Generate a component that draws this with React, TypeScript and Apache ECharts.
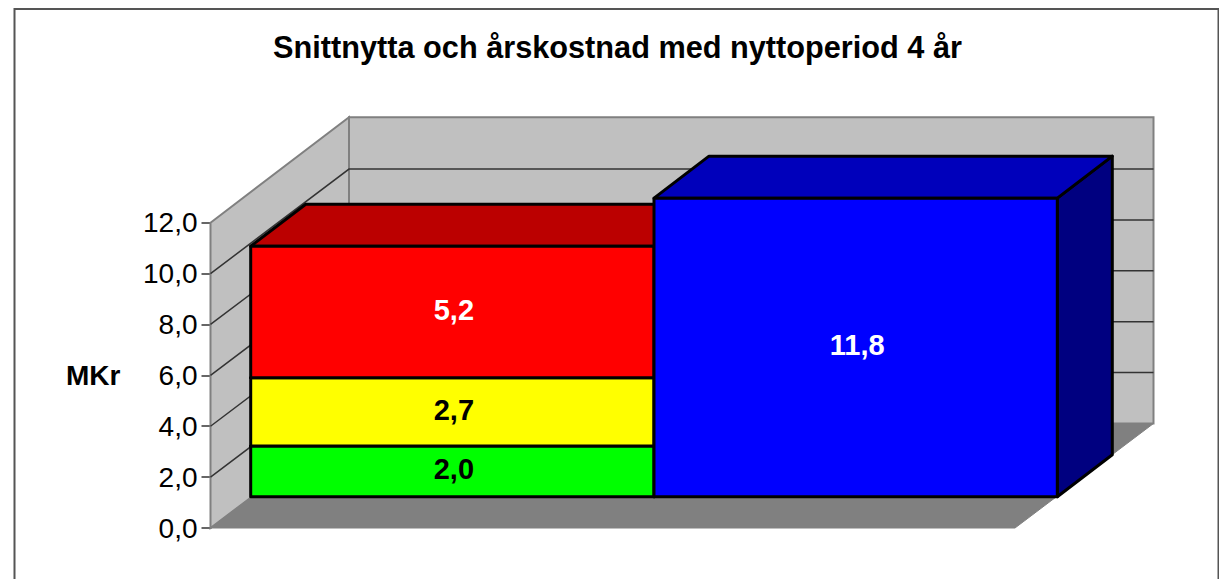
import React, { useEffect, useRef } from "react";
import * as echarts from "echarts";

const titleText = "Snittnytta och årskostnad med nyttoperiod 4 år";
const axisName = "MKr";
const categories = ["Snittnytta", "Årskostnad"];
const axisTicks = [0, 2, 4, 6, 8, 10, 12];
const greenValues = [2.0, null];
const yellowValues = [2.7, null];
const redValues = [5.2, null];
const blueValues = [null, 11.8];

const FONT = "'Liberation Sans', Arial, sans-serif";
const WALL = { dx: 138.5, dy: -104.5 };
const BAR = { dx: 55, dy: -42 };

const fmt = (v: number) => v.toFixed(1).replace(".", ",");

function wallItem(_: any, api: any) {
  const v = api.value(0);
  const p0 = api.coord([0, v]);
  if (v === 0) {
    const f0 = api.coord([0, 0]);
    const f1 = api.coord([1, 0]);
    const ft = api.coord([0, 12]);
    const b = (p: number[]) => [p[0] + WALL.dx, p[1] + WALL.dy];
    const bTop = [ft[0] + WALL.dx, ft[1] - 105.5];
    const bBase = b(f0);
    const bRight = b(f1);
    const rTop = [bRight[0], bTop[1]];
    return {
      type: "group",
      children: [
        { type: "polygon", shape: { points: [bTop, rTop, bRight, bBase] }, style: { fill: "#c0c0c0", stroke: "#808080", lineWidth: 2 } },
        { type: "polygon", shape: { points: [ft, bTop, bBase, f0] }, style: { fill: "#c0c0c0", stroke: "#808080", lineWidth: 2 } },
        { type: "polygon", shape: { points: [f0, bBase, bRight, f1] }, style: { fill: "#808080", stroke: "#808080", lineWidth: 1 } },
      ],
    };
  }
  if (v === 12) return null;
  const pb = [p0[0] + WALL.dx, p0[1] + WALL.dy];
  const r = api.coord([1, v]);
  return {
    type: "polyline",
    shape: { points: [p0, pb, [r[0] + WALL.dx, pb[1]]] },
    style: { fill: "none", stroke: "#333333", lineWidth: 1.5 },
  };
}

function barRenderer(front: string, top: string, side: string, labelColor: string) {
  return (_: any, api: any) => {
    const cat = api.value(0);
    const base = api.value(1);
    const val = api.value(2);
    const c0 = api.coord([cat, base]);
    const c1 = api.coord([cat, base + val]);
    const w = api.size([1, 0])[0];
    const x0 = c0[0] - w / 2;
    const x1 = c0[0] + w / 2;
    const edge = { stroke: "#000000", lineWidth: 3, lineJoin: "round" };
    return {
      type: "group",
      children: [
        { type: "polygon", shape: { points: [[x1, c1[1]], [x1 + BAR.dx, c1[1] + BAR.dy], [x1 + BAR.dx, c0[1] + BAR.dy], [x1, c0[1]]] }, style: { fill: side, ...edge } },
        { type: "polygon", shape: { points: [[x0, c1[1]], [x0 + BAR.dx, c1[1] + BAR.dy], [x1 + BAR.dx, c1[1] + BAR.dy], [x1, c1[1]]] }, style: { fill: top, ...edge } },
        { type: "polygon", shape: { points: [[x0, c1[1]], [x1, c1[1]], [x1, c0[1]], [x0, c0[1]]] }, style: { fill: front, ...edge } },
        {
          type: "text",
          x: (x0 + x1) / 2 + 1.5,
          y: (c0[1] + c1[1]) / 2 - 2,
          style: { text: fmt(val), fill: labelColor, font: `bold 29px ${FONT}`, align: "center", verticalAlign: "middle" },
        },
      ],
    };
  };
}

function segmentData(values: (number | null)[], bases: (number | null)[][]) {
  const rows: number[][] = [];
  values.forEach((v, i) => {
    if (v === null) return;
    const base = bases.reduce((s, arr) => s + (arr[i] ?? 0), 0);
    rows.push([i, base, v]);
  });
  return rows;
}

export default function App() {
  const ref = useRef<HTMLDivElement>(null);
  useEffect(() => {
    const chart = echarts.init(ref.current!, undefined, { renderer: "svg" });
    const barSeries = (name: string, data: number[][], renderItem: any) => ({
      name,
      type: "custom",
      xAxisIndex: 1,
      yAxisIndex: 1,
      coordinateSystem: "cartesian2d",
      silent: true,
      clip: false,
      data,
      encode: { x: 0, y: [1, 2] },
      renderItem,
    });
    chart.setOption({
      animation: false,
      backgroundColor: "#ffffff",
      title: {
        text: titleText,
        left: 612.5,
        top: 27,
        textAlign: "center",
        textStyle: { fontFamily: FONT, fontWeight: "bold", fontSize: 30.7, color: "#000000" },
      },
      graphic: [
        { type: "rect", shape: { x: 14.5, y: 9, width: 1204, height: 620 }, style: { fill: "none", stroke: "#555555", lineWidth: 2 }, silent: true },
      ],
      grid: [
        { left: 210.5, top: 222.7, width: 804.5, height: 305.3 },
        { left: 250.7, top: 193.1, width: 806.6, height: 303.6 },
      ],
      xAxis: [
        { type: "value", min: 0, max: 1, gridIndex: 0, show: false },
        { type: "category", data: categories, gridIndex: 1, show: false },
      ],
      yAxis: [
        {
          type: "value",
          gridIndex: 0,
          min: 0,
          max: 12,
          interval: 2,
          name: axisName,
          nameLocation: "middle",
          nameRotate: 0,
          nameGap: 90,
          nameTextStyle: { fontFamily: FONT, fontWeight: "bold", fontSize: 28, color: "#000000", padding: [0, 0, 5, 0] },
          axisLine: { show: true, lineStyle: { color: "#333333", width: 1.5 } },
          axisTick: { show: true, length: 9, lineStyle: { color: "#333333", width: 1.5 } },
          axisLabel: { formatter: (v: number) => fmt(v), fontFamily: FONT, fontSize: 28, color: "#000000", margin: 13 },
          splitLine: { show: false },
        },
        { type: "value", gridIndex: 1, min: 0, max: 12, show: false },
      ],
      series: [
        {
          name: "walls",
          type: "custom",
          xAxisIndex: 0,
          yAxisIndex: 0,
          silent: true,
          clip: false,
          z: 1,
          data: axisTicks.map((t) => [t]),
          encode: { y: 0 },
          renderItem: wallItem,
        },
        barSeries("Grön", segmentData(greenValues, []), barRenderer("#00ff00", "#00bb00", "#008000", "#000000")),
        barSeries("Gul", segmentData(yellowValues, [greenValues]), barRenderer("#ffff00", "#bbbb00", "#808000", "#000000")),
        barSeries("Röd", segmentData(redValues, [greenValues, yellowValues]), barRenderer("#ff0000", "#bb0000", "#800000", "#ffffff")),
        barSeries("Blå", segmentData(blueValues, []), barRenderer("#0000ff", "#0000bb", "#000080", "#ffffff")),
      ],
    });
    return () => chart.dispose();
  }, []);
  return <div ref={ref} style={{ position: "absolute", left: 0, top: 0, width: 1219, height: 579 }} />;
}
